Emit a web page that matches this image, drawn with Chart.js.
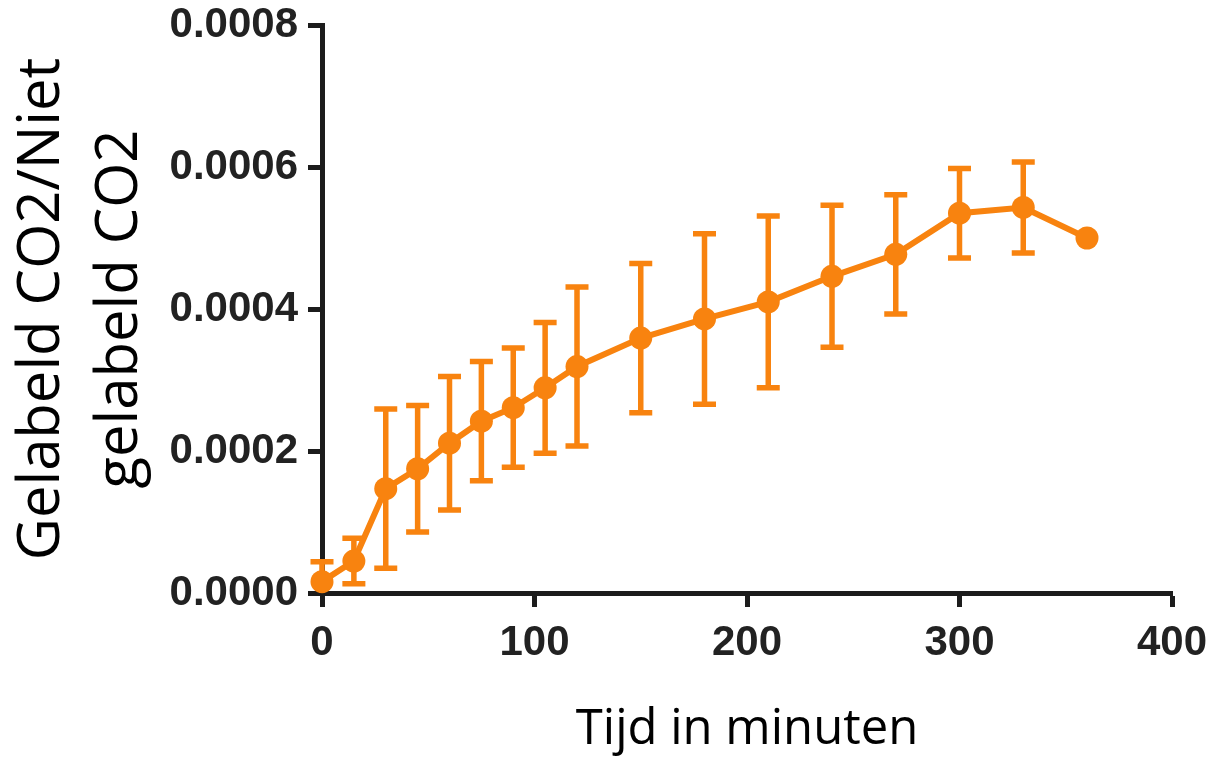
<!DOCTYPE html>
<html>
<head>
<meta charset="utf-8">
<script src="https://cdn.jsdelivr.net/npm/chart.js@4.4.1/dist/chart.umd.min.js"></script>
<style>
  html, body { margin: 0; padding: 0; background: #fff; }
  #wrap { width: 1212px; height: 761px; }
</style>
</head>
<body>
<div id="wrap"><canvas id="chart" width="1212" height="761"></canvas></div>
<script>
// sample times (min), mean ratio and SD
const times = [0, 15, 30, 45, 60, 75, 90, 105, 120, 150, 180, 210, 240, 270, 300, 330, 360];
const ratio = [0.000016, 0.000045, 0.000147, 0.000175, 0.000211, 0.000242, 0.000261, 0.000289, 0.000319,
               0.000359, 0.000386, 0.000410, 0.000446, 0.000477, 0.000535, 0.000543, 0.000500];
const sd = [0.000028, 0.000032, 0.000112, 0.000089, 0.000094, 0.000084, 0.000084, 0.000092, 0.000112,
            0.000105, 0.000120, 0.000121, 0.000100, 0.000084, 0.000063, 0.000064, null];

const xTicks = [0, 100, 200, 300, 400];
const yTicks = [0, 0.0002, 0.0004, 0.0006, 0.0008];

const orange = '#F8830F';
const axisColor = '#1c1c1c';

// error bars with caps, drawn under the line and points
const errorBars = {
    id: 'errorBars',
    beforeDatasetsDraw(chart) {
        const ctx = chart.ctx;
        const xs = chart.scales.x;
        const ys = chart.scales.y;
        const area = chart.chartArea;
        ctx.save();
        ctx.beginPath();
        ctx.rect(0, area.top, chart.width, area.bottom - area.top);
        ctx.clip();
        ctx.strokeStyle = orange;
        ctx.lineWidth = 5.5;
        times.forEach((t, i) => {
            if (sd[i] == null) return;
            const x = xs.getPixelForValue(t);
            const yHi = ys.getPixelForValue(ratio[i] + sd[i]);
            const yLo = ys.getPixelForValue(ratio[i] - sd[i]);
            ctx.beginPath();
            ctx.moveTo(x, yHi);
            ctx.lineTo(x, yLo);
            ctx.moveTo(x - 11.5, yHi);
            ctx.lineTo(x + 11.5, yHi);
            ctx.moveTo(x - 11.5, yLo);
            ctx.lineTo(x + 11.5, yLo);
            ctx.stroke();
        });
        ctx.restore();
    }
};

const points = times.map((t, i) => ({ x: t, y: ratio[i] }));

new Chart(document.getElementById('chart').getContext('2d'), {
    type: 'line',
    data: {
        datasets: [{
            data: points,
            borderColor: orange,
            backgroundColor: orange,
            borderWidth: 6,
            pointRadius: 11.5,
            pointHoverRadius: 11.5,
            pointBackgroundColor: orange,
            pointBorderWidth: 0,
            tension: 0,
            clip: false
        }]
    },
    options: {
        responsive: false,
        animation: false,
        events: [],
        layout: { padding: { top: 25, right: 40, bottom: 0, left: 0 } },
        plugins: {
            legend: { display: false },
            tooltip: { enabled: false }
        },
        scales: {
            x: {
                type: 'linear',
                min: 0,
                max: 400,
                afterFit(scale) {
                    scale.height = 168;
                    scale.paddingLeft = 0;
                    scale.paddingRight = 0;
                },
                afterBuildTicks(scale) { scale.ticks = xTicks.map(v => ({ value: v })); },
                grid: { drawOnChartArea: false, drawTicks: true, tickLength: 14, tickWidth: 5, tickColor: axisColor },
                border: { display: true, width: 5, color: axisColor },
                ticks: {
                    color: '#222',
                    padding: 11,
                    maxRotation: 0,
                    font: { family: '"Liberation Sans", Arial, sans-serif', size: 42, weight: 'bold' }
                },
                title: {
                    display: true,
                    text: 'Tijd in minuten',
                    color: '#000',
                    padding: { top: 0, bottom: 2 },
                    font: { family: '"Open Sans", sans-serif', size: 49, lineHeight: 1.2 }
                }
            },
            y: {
                type: 'linear',
                min: 0,
                max: 0.0008,
                afterFit(scale) {
                    scale.width = 322;
                    scale.paddingTop = 0;
                    scale.paddingBottom = 0;
                },
                afterBuildTicks(scale) { scale.ticks = yTicks.map(v => ({ value: v })); },
                grid: { drawOnChartArea: false, drawTicks: true, tickLength: 14, tickWidth: 5, tickColor: axisColor },
                border: { display: true, width: 5, color: axisColor },
                ticks: {
                    color: '#222',
                    padding: 10,
                    callback: v => v.toFixed(4),
                    font: { family: '"Liberation Sans", Arial, sans-serif', size: 42, weight: 'bold' }
                },
                title: {
                    display: true,
                    text: ['Gelabeld CO2/Niet', 'gelabeld CO2'],
                    color: '#000',
                    padding: { top: 3, bottom: 0 },
                    font: { family: '"Open Sans", sans-serif', size: 58, lineHeight: 1.35 }
                }
            }
        }
    },
    plugins: [errorBars]
});
</script>
</body>
</html>
